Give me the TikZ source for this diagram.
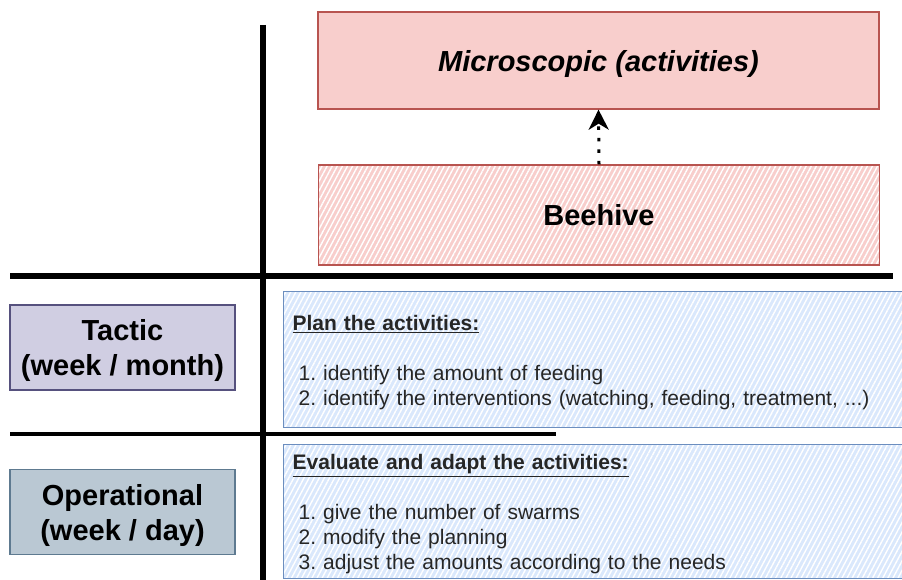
\documentclass[tikz,border=0pt]{standalone}
\usepackage{fontspec}
\setmainfont{Liberation Sans}
\setsansfont{Liberation Sans}
\usepackage{xcolor}
\usepackage{tikz}
\usetikzlibrary{arrows.meta, positioning, patterns.meta}

\definecolor{microfill}{HTML}{F8CECC}
\definecolor{microline}{HTML}{B85450}
\definecolor{planfill}{HTML}{DAE8FC}
\definecolor{planline}{HTML}{6C8EBF}
\definecolor{tacticfill}{HTML}{D0CEE2}
\definecolor{tacticline}{HTML}{56517E}
\definecolor{operfill}{HTML}{BAC8D3}
\definecolor{operline}{HTML}{5E7A90}

\frenchspacing

\begin{document}
\begin{tikzpicture}[x=1pt, y=-1pt]
    \tikzstyle{level} = [rectangle, draw, line width=1.3pt, minimum width=225pt, minimum height=85pt, align=center, text depth=-2pt, font=\fontsize{29}{35}\selectfont\bfseries]
    \tikzstyle{scalebox} = [rectangle, draw=microline, line width=1.3pt, minimum width=561pt, font=\fontsize{29}{35}\selectfont\bfseries]
    \tikzstyle{hatchred} = [preaction={fill=microfill}, preaction={pattern={Lines[angle=62, distance=4.5pt, line width=1.4pt]}, pattern color=white}]
    \tikzstyle{hatchblue} = [preaction={fill=planfill}, preaction={pattern={Lines[angle=62, distance=4.5pt, line width=1.4pt]}, pattern color=white}]
    \tikzstyle{taskbox} = [rectangle, draw=planline, hatchblue, line width=1.3pt, anchor=north west, minimum width=623pt, inner xsep=9pt, text width=605pt, align=left, font=\fontsize{21}{25}\selectfont, text=black!85]
    \tikzstyle{sepline} = [line width=6pt, black]
    \tikzstyle{arrow} = [line width=3pt, dash pattern=on 3.5pt off 8pt, -{Stealth[length=20pt, width=20pt, inset=6pt]}]

    \useasboundingbox (0,0) rectangle (902,580);
    \clip (0,0) rectangle (902,580);

    \node[scalebox, fill=microfill, minimum height=97pt, text depth=-2pt, font=\fontsize{29}{35}\selectfont\bfseries\itshape] (micro) at (598.5,60.5) {Microscopic (activities)};
    \node[scalebox, hatchred, minimum height=100pt] (beehive) at (599,215) {Beehive};
    \node[level, fill=tacticfill, draw=tacticline] (tactic) at (122.5,347.5) {Tactic\\(week / month)};
    \node[level, fill=operfill, draw=operline] (oper) at (122.5,512) {Operational\\(week / day)};
    \node[taskbox, minimum height=136pt] (plan) at (283,291) {\rule{0pt}{21pt}\underline{\textbf{Plan the activities:}}\\[25pt]
        \hspace*{6pt}1. identify the amount of feeding\\
        \hspace*{6pt}2. identify the interventions (watching, feeding, treatment, ...)};
    \node[taskbox, minimum height=134pt] (evaluate) at (283,444) {\rule{0pt}{21pt}\underline{\textbf{Evaluate and adapt the activities:}}\\[25pt]
        \hspace*{6pt}1. give the number of swarms\\
        \hspace*{6pt}2. modify the planning\\
        \hspace*{6pt}3. adjust the amounts according to the needs};

    \draw[sepline] (263,25) -- (263,582);
    \draw[sepline] (10,276) -- (893,276);
    \draw[line width=4pt] (10,434) -- (556,434);

    \draw[arrow] (beehive.north) -- (micro.south);
\end{tikzpicture}
\end{document}
